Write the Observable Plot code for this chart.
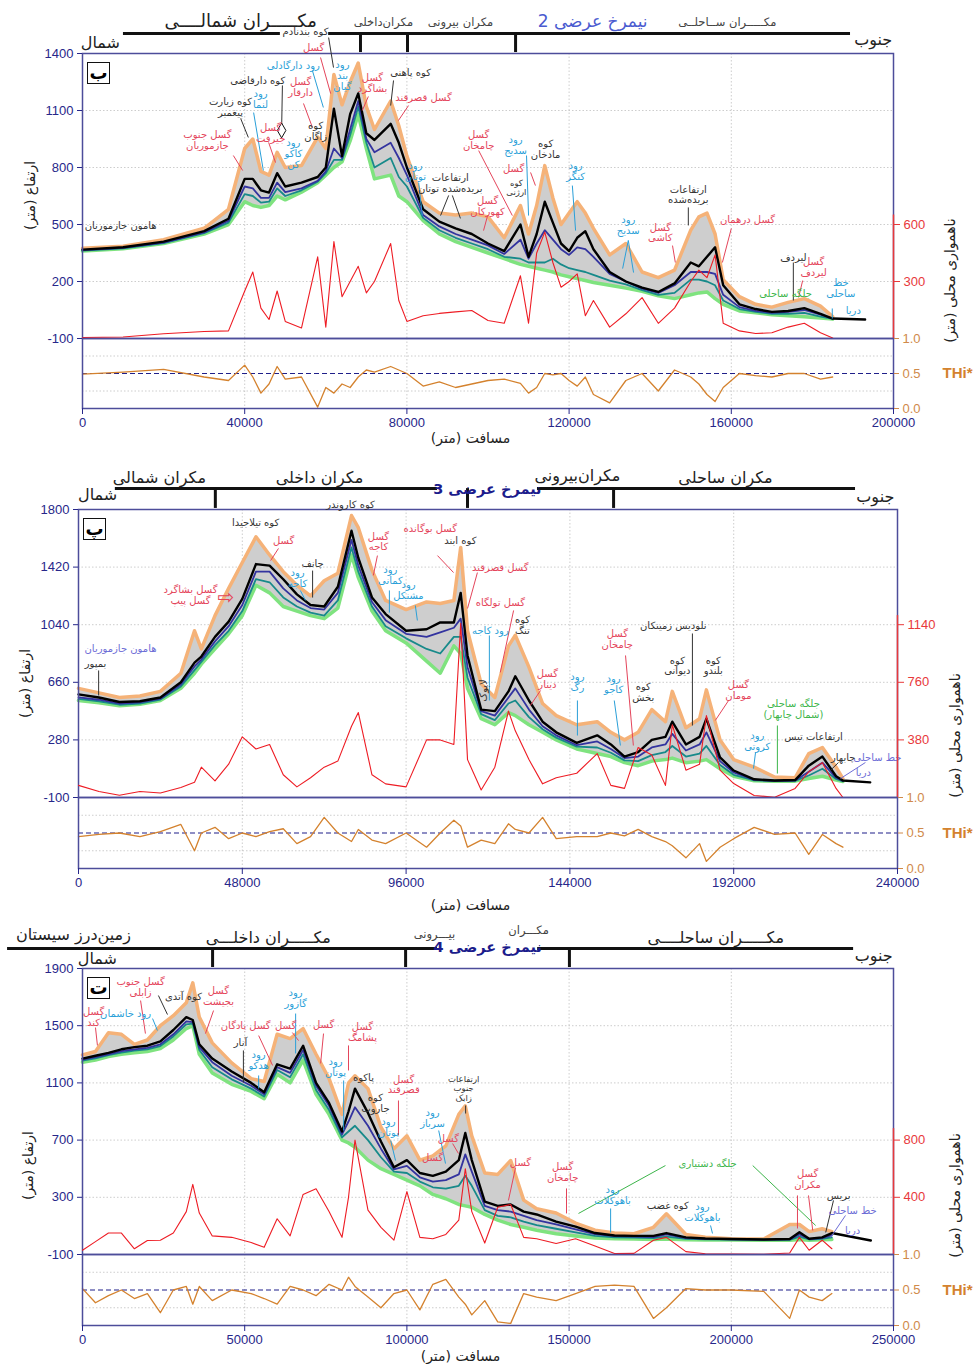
<!DOCTYPE html>
<html><head><meta charset="utf-8">
<script src="https://cdn.jsdelivr.net/npm/d3@7"></script>
<script src="https://cdn.jsdelivr.net/npm/@observablehq/plot@0.6"></script>
<style>
body{margin:0;background:#fff;}
#root{position:relative;width:976px;height:1364px;overflow:hidden;background:#fff;}
.layer{position:absolute;left:0;}
.badge{position:absolute;width:21px;height:20px;border:1.5px solid #111;background:#fff;font:bold 18px 'DejaVu Sans';text-align:center;line-height:19px;}
</style></head><body><div id="root"></div>
<script>
// ---------- Panel 1 (ب) ----------
const p1Dist = [0,10000,20000,30000,36000, 40000,42000,44000,46000,48000, 50000,54000,58000,60000,62000, 64000,66000,68000,70000,72000, 76000,78000,80000,84000,88000, 92000,96000,100000,104000,108000, 110000,112000,114000,116000,118000, 120000,122000,124000,126000,130000, 134000,138000,142000,146000,150000, 152000,154000,156000,158000,162000, 166000,170000,174000,178000,182000, 185000,193000];
const p1Mean = [368,380,410,465,530, 740,740,680,668,770, 700,720,750,800,1110, 860,1080,1190,980,945, 1030,930,800,580,515, 480,450,400,360,500, 330,450,620,510,400, 360,430,465,370,250, 200,168,145,190,300, 280,330,380,180,80, 55,40,45,60,30, 5,0];
const p1Max = [375,385,420,480,580, 900,950,780,760,880, 800,810,960,900,1290, 1130,1250,1350,1120,1000, 1150,1020,860,620,560, 550,560,540,430,600, 450,600,810,640,500, 560,620,560,480,340, 400,250,220,260,470, 540,560,450,210,120, 80,65,90,110,70, 15,null];
const p1Blue = [365,377,405,458,520, 700,690,640,640,720, 670,690,730,780,900, 850,1000,1150,950,880, 930,850,760,550,490, 450,420,390,345,420, 320,400,470,420,370, 340,380,370,330,240, 200,162,140,180,250, 250,250,240,130,65, 45,35,40,50,25, 4,null];
const p1Teal = [362,375,402,454,510, 660,650,615,620,690, 650,680,725,770,840, 840,970,1120,930,800, 850,750,700,535,470, 430,400,370,330,320, 300,300,300,320,290, 270,260,250,235,205, 185,155,130,140,210, 210,200,180,100,55, 40,30,30,35,15, 3,null];
const p1Min = [360,372,400,450,500, 620,600,590,600,650, 630,670,720,760,800, 830,940,1080,900,740, 760,650,620,520,450, 410,380,350,320,290, 280,270,260,250,235, 225,215,205,195,180, 165,148,125,110,130, 140,145,110,80,45, 35,25,20,15,8, 2,null];
const p1Relief = [5,8,25,37,40, 250,350,160,100,250, 90,55,430,60,510, 220,300,380,240,300, 500,200,90,120,132, 140,147,95,80,330, 80,450,560,400,270, 300,340,120,200,60, 130,215,80,160,300, 360,320,440,80,40, 26,30,60,80,30, 3,null];
const p1Thi = [0.49,0.52,0.56,0.45,0.4, 0.62,0.45,0.22,0.35,0.6, 0.42,0.45,0.02,0.3,0.22, 0.35,0.3,0.45,0.55,0.52, 0.6,0.55,0.5,0.32,0.38, 0.3,0.35,0.4,0.42,0.36, 0.22,0.3,0.5,0.48,0.5, 0.4,0.32,0.45,0.2,0.08, 0.4,0.5,0.25,0.55,0.45, 0.35,0.2,0.1,0.3,0.5, 0.47,0.45,0.5,0.5,0.42, 0.45,null];
const p1XTicks = [0,40000,80000,120000,160000,200000];
const p1YTicks = [-100,200,500,800,1100,1400];
const p1RTicks = [300,600];
const p1Labels = [
 ["کوه بندنادم",55000,1516,"m"],["گسل",57000,1432,"f"],["رود دارگادلی",52000,1337,"r"],["رود\nبند\nگیان",64100,1284,"r"],
 ["گسل\nدارقار",53800,1226,"f"],["کوه دارقاضی",43200,1258,"m"],["رود\nلنما",43900,1163,"r"],["کوه زیارت\nپیغمبر",36500,1121,"m"],
 ["گسل جنوب\nجازموریان",30800,947,"f"],["گسل\nجیرفت",46400,984,"f"],["رود\nکاکو\nکن",52000,874,"r"],["کوه\nزاگان",57500,990,"m"],
 ["گسل\nبشاگرد",71500,1247,"f"],["کوه پاهنی",80900,1300,"m"],["گسل قصرقند",84100,1168,"f"],["رود\nتوتان",82100,784,"r"],
 ["ارتفاعات\nبریده‌شده توتان",90700,721,"m"],["گسل\nکهورکان",99900,595,"f"],["گسل\nچامخان",97700,947,"f"],["رود\nسدیج",106800,921,"r"],
 ["کوه\nمادخان",114200,900,"m"],["گسل",106300,795,"f"],["کوه\nارژنی",107000,695,"ms"],["رود\nکنگر",121600,784,"r"],
 ["رود\nسدیج",134600,500,"r"],["گسل\nکاشی",142500,458,"f"],["ارتفاعات\nبریده‌شده",149400,658,"m"],["گسل درهمان",164000,526,"f"],
 ["لیردف",175300,326,"m"],["گسل\nلیردف",180300,274,"f"],["جلگه ساحلی",173400,137,"p"],["خط\nساحلی",187000,168,"r"],
 ["دریا",190100,47,"r"],["هامون جازموریان",9400,495,"m"]
];
const p1Leaders = [
 [60700,1484,61900,1326,"m"],[58700,1379,61200,1189,"f"],[56700,1310,59400,1116,"r"],[54500,1137,56700,1011,"f"],
 [49300,1232,49100,995,"m"],[42200,1089,44600,784,"r"],[39000,1058,40900,958,"m"],[37200,863,39500,784,"f"],
 [45900,932,47600,826,"f"],[70500,1174,69000,1100,"f"],[76700,1258,76000,1126,"m"],[80400,1126,77900,1047,"f"],
 [82900,721,83800,547,"r"],[90300,653,88300,547,"m"],[91200,653,93200,532,"m"],[99900,547,98900,468,"f"],
 [97700,889,106000,547,"f"],[109500,863,110000,547,"r"],[110500,774,111700,705,"f"],[120800,705,121600,468,"r"],
 [134600,416,133200,268,"r"],[134600,416,135900,247,"r"],[145500,389,146200,300,"f"],[149400,590,149400,495,"m"],
 [160000,479,157800,300,"f"],[175300,300,175300,100,"m"],[177600,205,176600,116,"f"],[184900,58,184900,5,"r"]
];
const p1Markers = [[49100,995]];
const p1HeadSegs = [[10100,48800],[60700,189400]];
const p1HeadTicks = [68550,80150,106800];
const p1HeadTexts = [["مکـــــران شمالــــی",39000,1570,"big"],["مکران‌داخلی",74200,1565,"small"],["مکران بیرونی",93200,1565,"small"],["نیمرخ عرضی 2",125800,1570,"title2"],["مکـــــران ســاحلــی",159000,1565,"small"],["شمال",4400,1458,"dir"],["جنوب",195000,1474,"dir"]];

// ---------- Panel 2 (پ) ----------
const p2Dist = [0,6000,12000,18000,24000,30000,34000,36000,40000,44000, 48000,52000,56000,60000,64000,68000,72000,76000,80000,82000, 86000,90000,96000,102000,106000,110000,112000,114000,118000,122000, 126000,128000,132000,136000,140000,146000,152000,156000,160000,164000, 168000,172000,174000,178000,182000,184000,188000,192000,198000,204000, 210000,214000,218000,222000,224000,232000];
const p2Mean = [580,560,530,535,560,660,790,830,960,1060, 1210,1440,1430,1340,1240,1170,1160,1290,1660,1480, 1220,1110,1000,1010,1055,1055,1250,837,480,470, 600,700,540,400,330,260,310,250,170,200, 280,300,400,250,300,420,164,78,20,12, 15,110,170,40,12,0];
const p2Max = [620,590,560,570,600,720,1000,880,1100,1280, 1450,1620,1500,1390,1300,1230,1330,1380,1760,1680, 1400,1200,1140,1190,1180,1200,1550,1000,650,560, 900,970,760,520,440,380,400,330,280,330, 480,400,600,360,420,610,280,150,100,35, 30,190,230,100,25,null];
const p2Blue = [560,545,520,527,552,645,765,810,930,1030, 1170,1390,1390,1280,1200,1150,1140,1250,1600,1430, 1190,1070,980,960,990,1020,1080,760,470,440, 560,620,480,370,310,245,270,220,160,170, 230,250,320,210,250,330,140,65,16,10, 12,70,130,30,10,null];
const p2Teal = [550,535,512,520,546,632,740,795,905,1000, 1130,1340,1320,1220,1160,1120,1100,1200,1550,1390, 1160,1030,950,880,850,960,960,690,450,410, 520,540,430,350,295,235,230,195,145,140, 180,200,240,170,190,240,115,50,13,9, 10,45,90,22,7,null];
const p2Min = [540,525,505,515,540,620,720,780,880,980, 1100,1300,1250,1160,1130,1100,1080,1150,1500,1350, 1130,1000,920,800,720,900,850,620,420,380, 460,440,380,330,280,220,190,170,130,110, 140,150,160,130,140,150,90,40,10,8, 8,25,40,15,5,null];
const p2Relief = [80,40,15,40,30,66,100,200,110,220, 400,320,350,150,70,130,200,240,470,560, 150,90,70,380,380,350,1150,250,50,200, 570,440,250,90,130,160,290,80,60,330, 280,80,480,180,220,540,180,92,13,2, 60,170,230,60,0,null];
const p2Thi = [0.45,0.48,0.5,0.45,0.52,0.62,0.25,0.5,0.58,0.42, 0.5,0.45,0.52,0.56,0.35,0.45,0.72,0.5,0.38,0.55, 0.4,0.35,0.5,0.3,0.5,0.68,0.6,0.3,0.4,0.35, 0.63,0.55,0.5,0.72,0.42,0.45,0.45,0.5,0.46,0.55, 0.45,0.38,0.32,0.15,0.35,0.1,0.3,0.42,0.58,0.48, 0.5,0.2,0.48,0.35,0.3,null];
const p2XTicks = [0,48000,96000,144000,192000,240000];
const p2YTicks = [-100,280,660,1040,1420,1800];
const p2RTicks = [380,760,1140];
const p2Labels = [
 ["کوه کاروندر",79700,1833,"m"],["کوه تیلاجیدا",51900,1714,"m"],["گسل",60100,1595,"f"],["گسل\nکاجه",87900,1589,"f"],
 ["گسل بوگانده",103100,1675,"f"],["کوه ابند",111900,1595,"m"],["گسل قصرقند",123600,1417,"f"],["چانف",68600,1444,"m"],
 ["رود\nکاجه",64200,1345,"r"],["رود\nکمانی",91400,1365,"r"],["رود\nمشنکل",96700,1266,"r"],["گسل بشاگرد\nگسل پیپ",32800,1233,"f"],
 ["⇨",43100,1226,"fa"],["هامون جازموریان",12300,883,"s"],["بمپور",5000,784,"m"],["گسل تولگاه",123600,1186,"f"],
 ["کوه\nتنگ",130100,1041,"m"],["رود کاجه",120700,1002,"r"],["لاپوک",118700,606,"mv"],["نلودیس زمینکان",174300,1035,"m"],
 ["گسل\nچامخان",157900,949,"f"],["کوه\nدیوانی",175500,771,"m"],["کوه\nبلندو",186000,771,"m"],["کوه\nبخش",165500,593,"m"],
 ["گسل\nدینار",137400,685,"f"],["رود\nرگ",146200,665,"r"],["رود\nکاجو",156800,652,"r"],["گسل\nمومان",193400,612,"f"],
 ["جلگه ساحلی\n(شمال چابهار)",209500,487,"p"],["رود\nکروتی",198900,276,"r"],["ارتفاعات تیس",215400,302,"m"],["چابهار",224100,164,"m"],
 ["خط ساحلی",234100,164,"s"],["دریا",230000,65,"s"]
];
const p2Leaders = [
 [58600,1543,56300,1463,"f"],[87600,1496,86400,1365,"f"],[105200,1496,109900,1384,"f"],[116900,1384,114000,1147,"f"],
 [68600,1397,68600,1219,"m"],[65000,1266,66500,1200,"r"],[91100,1266,91100,1120,"r"],[98700,1167,99300,1068,"r"],
 [5900,738,5900,573,"m"],[127500,1134,123600,725,"f"],[120400,969,120400,540,"r"],[179900,982,179900,375,"m"],
 [160300,837,162600,243,"f"],[135400,606,132400,507,"f"],[146200,540,146200,309,"r"],[157000,540,158800,243,"r"],
 [190500,540,186600,408,"f"],[204800,375,204800,58,"p"],[198400,197,197800,91,"r"],[222700,131,220300,78,"m"],
 [230600,131,223300,25,"s"]
];
const p2Markers = [];
const p2HeadSegs = [[10800,105200],[134500,227700]];
const p2HeadTicks = [40100,114000,156800];
const p2HeadTexts = [["مکران شمالی",23700,2008,"mid"],["مکران داخلی",70600,2008,"mid"],["نیمرخ عرضی 3",119800,1932,"title"],["مکران‌بیرونی",146200,2024,"mid"],["مکران ساحلی",189600,2008,"mid"],["شمال",5600,1899,"dir"],["جنوب",233500,1886,"dir"]];

// ---------- Panel 3 (ت) ----------
const p3Dist = [0,4000,8000,12000,16000,20000,24000,28000,32000,34000, 36000,40000,46000,52000,56000,60000,64000,68000,72000,76000, 80000,82000,84000,88000,92000,96000,100000,104000,108000,112000, 116000,118000,120000,124000,128000,132000,136000,140000,146000,152000, 158000,164000,170000,176000,180000,186000,192000,200000,210000,218000, 221000,224000,228000,231000,243000];
const p3Mean = [1270,1290,1310,1335,1350,1360,1390,1470,1560,1540, 1370,1270,1180,1100,1035,1230,1200,1360,1100,960, 760,900,1060,890,690,510,560,470,450,480, 560,750,560,270,240,250,200,180,130,95, 50,33,30,30,50,20,12,8,5,8, 55,10,20,50,-2];
const p3Max = [1295,1320,1450,1440,1370,1400,1500,1570,1660,1800, 1560,1380,1240,1130,1110,1440,1410,1480,1300,1130, 880,1100,1150,1060,790,640,730,560,590,660, 880,940,730,470,460,557,280,220,190,120, 70,50,45,90,185,40,20,10,8,110, 110,60,80,60,null];
const p3Blue = [1262,1280,1300,1322,1335,1345,1370,1440,1530,1525, 1350,1245,1150,1080,1020,1210,1170,1330,1080,940, 740,830,930,800,640,495,520,440,410,420, 460,600,480,240,210,200,170,140,110,75, 42,28,25,22,40,15,9,6,4,6, 40,8,15,35,null];
const p3Teal = [1255,1272,1295,1312,1325,1335,1358,1425,1510,1515, 1330,1210,1125,1060,1005,1190,1140,1300,1050,910, 720,760,800,700,580,480,470,410,370,360, 380,450,380,210,170,160,130,105,80,55, 30,20,18,15,25,10,6,4,2,3, 25,5,10,20,null];
const p3Min = [1245,1260,1285,1300,1310,1320,1340,1400,1480,1500, 1300,1170,1090,1040,990,1160,1100,1260,1020,880, 700,680,650,560,500,460,420,380,320,290, 250,240,230,180,140,110,90,70,45,30, 15,10,8,5,8,4,2,1,0,0, 5,0,3,5,null];
const p3Relief = [30,90,150,150,40,98,100,150,300,490, 290,130,120,84,50,250,130,420,460,300, 120,400,800,310,190,100,440,120,110,140, 240,600,300,80,330,350,120,110,77,110, 60,7,8,100,120,20,5,3,2,10, 120,30,100,40,null];
const p3Thi = [0.52,0.32,0.42,0.5,0.38,0.45,0.18,0.5,0.55,0.3, 0.55,0.35,0.5,0.45,0.38,0.3,0.55,0.5,0.42,0.58, 0.5,0.68,0.55,0.4,0.25,0.45,0.5,0.22,0.58,0.65, 0.4,0.3,0.15,0.35,0.05,0.03,0.45,0.4,0.35,0.45, 0.55,0.57,0.55,0.1,0.25,0.52,0.5,0.5,0.48,0.1, 0.5,0.4,0.35,0.45,null];
const p3XTicks = [0,50000,100000,150000,200000,250000];
const p3YTicks = [-100,300,700,1100,1500,1900];
const p3RTicks = [400,800];
const p3Labels = [
 ["گسل\nکند",3400,1564,"f"],["گسل جنوب\nزابلی",17900,1774,"f"],["رود خاشمان",13300,1585,"r"],["کوه آتدی",31100,1704,"m"],
 ["گسل\nبجیشت",41900,1711,"f"],["گسل پادگان",50300,1501,"f"],["گسل",62600,1501,"f"],["رود\nگازور",65700,1697,"r"],
 ["آنار",48700,1383,"m"],["رود\nهدکو",54300,1257,"r"],["گسل",74300,1508,"f"],["گسل\nپشامگ",86300,1459,"f"],
 ["رود\nپوتان",78000,1208,"r"],["پاکوه",86600,1138,"m"],["کوه\nجاروت",90300,963,"m"],["گسل\nقصرقند",99000,1089,"f"],
 ["رود\nپوتان",94300,795,"r"],["رود\nسرباز",107900,858,"r"],["گسل",112800,711,"f"],["ارتفاعات\nجنوب\nزابک",117500,1061,"ms"],
 ["گسل",107900,578,"f"],["گسل",135000,543,"f"],["گسل\nچامخان",148000,480,"f"],["رود\nباهوکلات",163400,313,"r"],
 ["کوه غضب",180400,243,"m"],["رود\nباهوکلات",191100,194,"r"],["جلگه دشتیاری",192700,536,"p"],["گسل\nمکران",223500,431,"f"],
 ["بریس",233100,313,"m"],["خط ساحلی",237400,208,"s"],["دریا",237400,68,"s"]
];
const p3Leaders = [
 [4000,1487,4600,1362,"f"],[17900,1676,19400,1445,"f"],[21600,1550,23100,1466,"r"],[23400,1711,26200,1578,"m"],
 [40400,1606,37900,1445,"f"],[54300,1431,58600,1222,"f"],[64700,1452,66600,1396,"f"],[65700,1585,65700,1306,"r"],
 [49600,1327,49600,1103,"m"],[54300,1152,54300,1061,"r"],[74300,1445,73400,1236,"f"],[82000,1362,82000,1187,"f"],
 [80500,1117,80500,767,"r"],[97400,977,97400,732,"f"],[95000,697,96500,557,"r"],[109800,767,111900,536,"r"],
 [114100,676,115900,606,"f"],[118100,942,118100,886,"m"],[133500,508,131300,278,"f"],[149200,362,149200,187,"f"],
 [162800,222,162800,54,"r"],[193600,103,194200,47,"r"],[179700,522,152900,187,"p"],[206600,522,226000,103,"p"],
 [220400,313,220400,82,"f"],[223800,313,225100,68,"f"],[231500,278,229100,54,"m"],[235200,173,230600,19,"s"]
];
const p3Markers = [];
const p3HeadSegs = [[-23100,109400],[140300,237700]];
const p3HeadTicks = [40100,99600,150100];
const p3HeadTexts = [["زمین‌درز سیستان",-2800,2135,"mid"],["شمال",4600,1968,"dir"],["مکـــــران داخلـــی",57300,2117,"mid"],["بیـــرونی",108500,2140,"small"],["مکـــران",137500,2168,"small"],["نیمرخ عرضی 4",124900,2047,"title"],["مکـــــران ساحلــــی",195200,2117,"mid"],["جنوب",243900,1991,"dir"]];

// ---------- styling maps ----------
const catColor = {f:"#e4455b", fa:"#e4455b", r:"#2a9fd8", m:"#333333", ms:"#333333", mv:"#333333", p:"#3cb54a", s:"#6d6dd6"};
const catSize = {fa:20, ms:8.5};
const hStyle = {big:[18,"#222"], mid:[16,"#222"], small:[11.5,"#444"], title:[14.5,"#1c1c8c"], title2:[17,"#4b5bd0"], dir:[16,"#222"]};

const panels = [
 {dist:p1Dist,max:p1Max,mean:p1Mean,blue:p1Blue,teal:p1Teal,min:p1Min,relief:p1Relief,thi:p1Thi,
  xDomain:[0,200000],xTicks:p1XTicks,yDomain:[-100,1400],yTicks:p1YTicks,rDomain:[0,1500],rTicks:p1RTicks,rTop:650,
  top:0,mainH:340,mTop:53,mLeft:82,mRight:83,thiTop:336,thiH:114,thiBottom:42,
  yLabelE:653,yLabelDx:-52,rLabelV:305,rLabelDx:57,xLabelD:95700,xLabelDy:30,thiDx:64,
  labels:p1Labels,leaders:p1Leaders,markers:p1Markers,
  head:{segs:p1HeadSegs,ticks:p1HeadTicks,texts:p1HeadTexts,lineY:1505,tickY2:1405},
  letter:"ب",badge:[87,62]},
 {dist:p2Dist,max:p2Max,mean:p2Mean,blue:p2Blue,teal:p2Teal,min:p2Min,relief:p2Relief,thi:p2Thi,
  xDomain:[0,240000],xTicks:p2XTicks,yDomain:[-100,1800],yTicks:p2YTicks,rDomain:[0,1900],rTicks:p2RTicks,rTop:1200,
  top:455,mainH:344,mTop:54,mLeft:78,mRight:79,thiTop:795,thiH:120,thiBottom:47,
  yLabelE:652,yLabelDx:-53,rLabelV:409,rLabelDx:58,xLabelD:114900,xLabelDy:37,thiDx:60,
  labels:p2Labels,leaders:p2Leaders,markers:p2Markers,
  head:{segs:p2HeadSegs,ticks:p2HeadTicks,texts:p2HeadTexts,lineY:1938,tickY2:1807},
  letter:"پ",badge:[83,518]},
 {dist:p3Dist,max:p3Max,mean:p3Mean,blue:p3Blue,teal:p3Teal,min:p3Min,relief:p3Relief,thi:p3Thi,
  xDomain:[0,250000],xTicks:p3XTicks,yDomain:[-100,1900],yTicks:p3YTicks,rDomain:[0,2000],rTicks:p3RTicks,rTop:880,
  top:915,mainH:341,mTop:53,mLeft:82,mRight:83,thiTop:1252,thiH:112,thiBottom:39,
  yLabelE:522,yLabelDx:-54,rLabelV:413,rLabelDx:62,xLabelD:116500,xLabelDy:31,thiDx:64,
  labels:p3Labels,leaders:p3Leaders,markers:p3Markers,
  head:{segs:p3HeadSegs,ticks:p3HeadTicks,texts:p3HeadTexts,lineY:2040,tickY2:1907},
  letter:"ت",badge:[87,977]}
];

const root = document.getElementById("root");
function fixRTL(svg){
  svg.querySelectorAll("text").forEach(t=>{
    if(/[\u0600-\u06FF]/.test(t.textContent)){ t.setAttribute("direction","rtl"); t.style.unicodeBidi="embed"; }
  });
}
function place(svg, top){
  fixRTL(svg);
  const d = document.createElement("div");
  d.className = "layer"; d.style.top = top + "px";
  d.appendChild(svg); root.appendChild(d);
}
const style = {background:"transparent", overflow:"visible", fontFamily:"'Liberation Sans', Arial, sans-serif", fontSize:"13px"};
const grid = {stroke:"#b8b8b8", strokeOpacity:0.7, strokeDasharray:"1.5,2"};
const fa = "'DejaVu Sans', sans-serif";
const plain = d => String(d);

function build(p){
  const rows = p.dist.map((d,i)=>({d, max:p.max[i], mean:p.mean[i], blue:p.blue[i], teal:p.teal[i], min:p.min[i], relief:p.relief[i], thi:p.thi[i]}));
  const labs = p.labels.map(([t,x,y,c])=>({t,x,y,c}));
  const leads = p.leaders.map(([x1,y1,x2,y2,c])=>({x1,y1,x2,y2,c}));
  const marks = p.markers.map(([x,y])=>({x,y}));
  const hTexts = p.head.texts.map(([t,x,y,k])=>({t,x,y,k}));
  const segs = p.head.segs.map(([a,b])=>({a,b}));
  const xmax = p.xDomain[1];
  const common = {width:976, marginLeft:p.mLeft, marginRight:p.mRight, style};

  const main = Plot.plot({...common, height:p.mainH, marginTop:p.mTop, marginBottom:2,
    x:{domain:p.xDomain, axis:null}, y:{domain:p.yDomain, axis:null}, color:{type:"identity"},
    marks:[
      Plot.gridX({ticks:p.xTicks, ...grid}),
      Plot.gridY({ticks:p.yTicks, ...grid}),
      Plot.areaY(rows, {x:"d", y1:"min", y2:"max", fill:"#cecece"}),
      Plot.line(rows, {x:"d", y:"max", stroke:"#f5b278", strokeWidth:3.5}),
      Plot.line(rows, {x:"d", y:"min", stroke:"#7fe37f", strokeWidth:3.5}),
      Plot.line(rows, {x:"d", y:"teal", stroke:"#178a8a", strokeWidth:1.8}),
      Plot.line(rows, {x:"d", y:"blue", stroke:"#33339f", strokeWidth:1.8}),
      Plot.line(rows, {x:"d", y:"mean", stroke:"#000", strokeWidth:2.4}),
      Plot.frame({stroke:"#4d4d9a", strokeWidth:1.5}),
      Plot.axisY({ticks:p.yTicks, tickFormat:plain, tickSize:5, tickPadding:4, color:"#27278a", label:null}),
      Plot.text(["ارتفاع (متر)"], {x:p.xDomain[0], y:p.yLabelE, dx:p.yLabelDx, rotate:-90, fontFamily:fa, fontSize:14, fill:"#222"}),
      Plot.link(leads, {x1:"x1", y1:"y1", x2:"x2", y2:"y2", stroke:d=>catColor[d.c], strokeWidth:1}),
      Plot.dot(marks, {x:"x", y:"y", symbol:"diamond", r:4.5, fill:"white", stroke:"#111", strokeWidth:1}),
      Plot.text(labs, {x:"x", y:"y", text:"t", fill:d=>catColor[d.c], fontSize:d=>catSize[d.c]||10, rotate:d=>d.c==="mv"?-90:0, fontFamily:fa, lineHeight:1.1}),
      Plot.ruleY(segs, {x1:"a", x2:"b", y:p.head.lineY, stroke:"#111", strokeWidth:3}),
      Plot.ruleX(p.head.ticks, {y1:p.head.lineY, y2:p.head.tickY2, stroke:"#111", strokeWidth:3}),
      Plot.text(hTexts.filter(d=>d.k!=="title"), {x:"x", y:"y", text:"t", fontSize:d=>hStyle[d.k][0], fill:d=>hStyle[d.k][1], fontFamily:fa}),
      Plot.text(hTexts.filter(d=>d.k==="title"), {x:"x", y:"y", text:"t", fontSize:d=>hStyle[d.k][0], fill:d=>hStyle[d.k][1], fontFamily:fa, fontWeight:"bold"})
    ]});
  place(main, p.top);

  const rel = Plot.plot({...common, height:p.mainH, marginTop:p.mTop, marginBottom:2,
    x:{domain:p.xDomain, axis:null}, y:{domain:p.rDomain, axis:null},
    marks:[
      Plot.line(rows, {x:"d", y:"relief", stroke:"#ee1c24", strokeWidth:1.1}),
      Plot.ruleX([xmax], {y1:0, y2:p.rTop, stroke:"#e8393b", strokeWidth:1.5}),
      Plot.axisY({anchor:"right", ticks:p.rTicks, tickFormat:plain, tickSize:6, tickPadding:4, color:"#e8393b", label:null}),
      Plot.text(["ناهمواری محلی (متر)"], {x:xmax, y:p.rLabelV, dx:p.rLabelDx, rotate:-90, fontFamily:fa, fontSize:14, fill:"#222"})
    ]});
  place(rel, p.top);

  const thi = Plot.plot({...common, height:p.thiH, marginTop:2, marginBottom:p.thiBottom,
    x:{domain:p.xDomain, axis:null}, y:{domain:[0,1], axis:null},
    marks:[
      Plot.gridX({ticks:p.xTicks, ...grid}),
      Plot.gridY({ticks:[0.25,0.75], ...grid}),
      Plot.ruleY([0.5], {stroke:"#1f1f8a", strokeDasharray:"5,3", strokeWidth:1.2}),
      Plot.line(rows, {x:"d", y:"thi", stroke:"#d4822e", strokeWidth:1.3}),
      Plot.frame({stroke:"#4d4d9a", strokeWidth:1.5}),
      Plot.axisX({ticks:p.xTicks, tickFormat:plain, tickSize:6, tickPadding:3, color:"#27278a", label:null}),
      Plot.axisY({anchor:"right", ticks:[0,0.5,1], tickFormat:d=>d.toFixed(1), tickSize:5, tickPadding:4, color:"#d08a4a", label:null}),
      Plot.text(["THi*"], {x:xmax, y:0.5, dx:p.thiDx, fill:"#d4822e", fontWeight:"bold", fontSize:15}),
      Plot.text(["مسافت (متر)"], {x:p.xLabelD, y:0, dy:p.xLabelDy, fontFamily:fa, fontSize:14, fill:"#222"})
    ]});
  place(thi, p.thiTop);

  const b = document.createElement("div");
  b.className = "badge"; b.style.left = p.badge[0]+"px"; b.style.top = p.badge[1]+"px";
  b.textContent = p.letter; root.appendChild(b);
}
panels.forEach(build);
</script></body></html>
